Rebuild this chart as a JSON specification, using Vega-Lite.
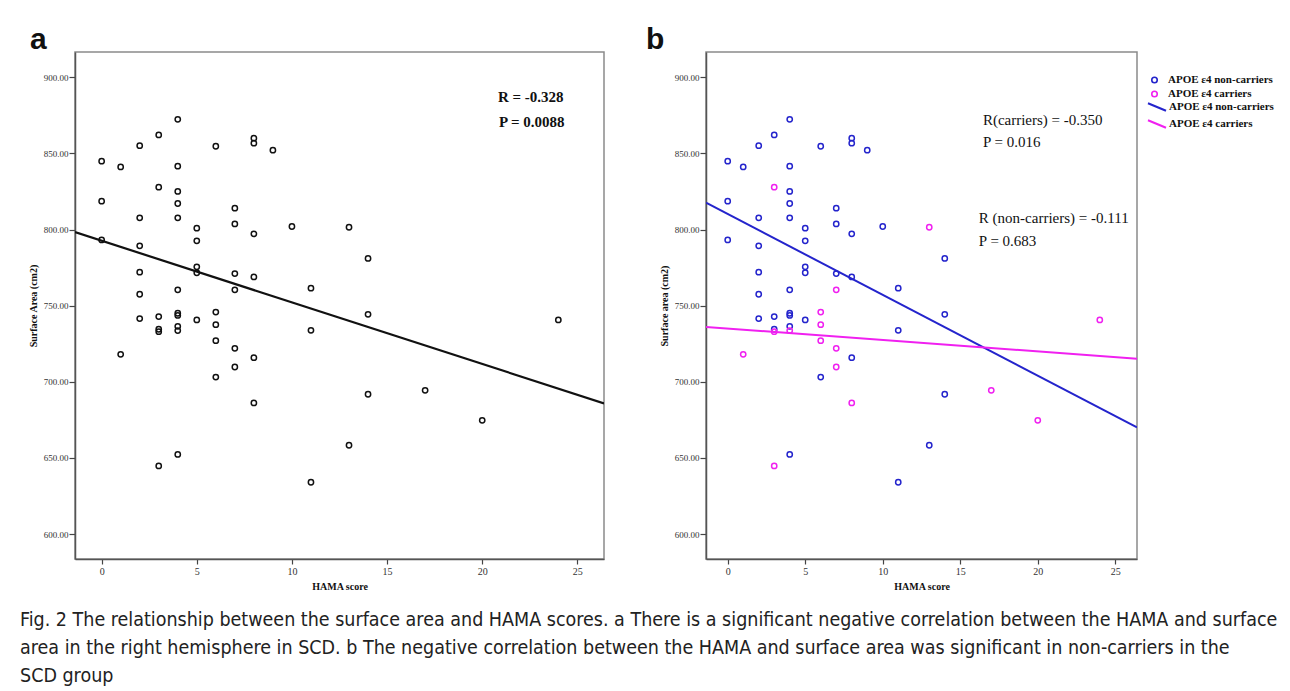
{
  "$schema": "https://vega.github.io/schema/vega-lite/v6.json",
  "background": "white",
  "padding": {"left": 20, "top": 24, "right": 4, "bottom": 4},
  "autosize": {"type": "pad"},
  "datasets": {
    "pts": [
      {"hama": 4, "area": 872.4, "series": "APOE ε4 non-carriers"},
      {"hama": 3, "area": 862.1, "series": "APOE ε4 non-carriers"},
      {"hama": 2, "area": 855.1, "series": "APOE ε4 non-carriers"},
      {"hama": 6, "area": 854.7, "series": "APOE ε4 non-carriers"},
      {"hama": 8, "area": 860.0, "series": "APOE ε4 non-carriers"},
      {"hama": 8, "area": 856.7, "series": "APOE ε4 non-carriers"},
      {"hama": 9, "area": 852.1, "series": "APOE ε4 non-carriers"},
      {"hama": 0, "area": 844.9, "series": "APOE ε4 non-carriers"},
      {"hama": 1, "area": 841.1, "series": "APOE ε4 non-carriers"},
      {"hama": 4, "area": 841.6, "series": "APOE ε4 non-carriers"},
      {"hama": 4, "area": 825.0, "series": "APOE ε4 non-carriers"},
      {"hama": 0, "area": 818.6, "series": "APOE ε4 non-carriers"},
      {"hama": 4, "area": 817.1, "series": "APOE ε4 non-carriers"},
      {"hama": 7, "area": 814.0, "series": "APOE ε4 non-carriers"},
      {"hama": 2, "area": 807.7, "series": "APOE ε4 non-carriers"},
      {"hama": 4, "area": 807.7, "series": "APOE ε4 non-carriers"},
      {"hama": 5, "area": 800.9, "series": "APOE ε4 non-carriers"},
      {"hama": 7, "area": 803.7, "series": "APOE ε4 non-carriers"},
      {"hama": 10, "area": 802.0, "series": "APOE ε4 non-carriers"},
      {"hama": 0, "area": 793.2, "series": "APOE ε4 non-carriers"},
      {"hama": 5, "area": 792.6, "series": "APOE ε4 non-carriers"},
      {"hama": 8, "area": 797.2, "series": "APOE ε4 non-carriers"},
      {"hama": 2, "area": 789.3, "series": "APOE ε4 non-carriers"},
      {"hama": 14, "area": 781.0, "series": "APOE ε4 non-carriers"},
      {"hama": 2, "area": 772.0, "series": "APOE ε4 non-carriers"},
      {"hama": 5, "area": 775.5, "series": "APOE ε4 non-carriers"},
      {"hama": 5, "area": 771.6, "series": "APOE ε4 non-carriers"},
      {"hama": 7, "area": 771.1, "series": "APOE ε4 non-carriers"},
      {"hama": 8, "area": 768.9, "series": "APOE ε4 non-carriers"},
      {"hama": 11, "area": 761.5, "series": "APOE ε4 non-carriers"},
      {"hama": 2, "area": 757.5, "series": "APOE ε4 non-carriers"},
      {"hama": 4, "area": 760.4, "series": "APOE ε4 non-carriers"},
      {"hama": 14, "area": 744.3, "series": "APOE ε4 non-carriers"},
      {"hama": 4, "area": 745.0, "series": "APOE ε4 non-carriers"},
      {"hama": 4, "area": 743.6, "series": "APOE ε4 non-carriers"},
      {"hama": 2, "area": 741.5, "series": "APOE ε4 non-carriers"},
      {"hama": 3, "area": 742.8, "series": "APOE ε4 non-carriers"},
      {"hama": 5, "area": 740.6, "series": "APOE ε4 non-carriers"},
      {"hama": 4, "area": 736.4, "series": "APOE ε4 non-carriers"},
      {"hama": 3, "area": 734.5, "series": "APOE ε4 non-carriers"},
      {"hama": 11, "area": 733.8, "series": "APOE ε4 non-carriers"},
      {"hama": 8, "area": 715.8, "series": "APOE ε4 non-carriers"},
      {"hama": 6, "area": 703.1, "series": "APOE ε4 non-carriers"},
      {"hama": 14, "area": 691.8, "series": "APOE ε4 non-carriers"},
      {"hama": 13, "area": 658.3, "series": "APOE ε4 non-carriers"},
      {"hama": 4, "area": 652.3, "series": "APOE ε4 non-carriers"},
      {"hama": 11, "area": 634.0, "series": "APOE ε4 non-carriers"},
      {"hama": 3, "area": 827.8, "series": "APOE ε4 carriers"},
      {"hama": 13, "area": 801.5, "series": "APOE ε4 carriers"},
      {"hama": 7, "area": 760.4, "series": "APOE ε4 carriers"},
      {"hama": 6, "area": 745.8, "series": "APOE ε4 carriers"},
      {"hama": 24, "area": 740.6, "series": "APOE ε4 carriers"},
      {"hama": 6, "area": 737.5, "series": "APOE ε4 carriers"},
      {"hama": 3, "area": 732.9, "series": "APOE ε4 carriers"},
      {"hama": 4, "area": 733.6, "series": "APOE ε4 carriers"},
      {"hama": 6, "area": 727.0, "series": "APOE ε4 carriers"},
      {"hama": 7, "area": 722.0, "series": "APOE ε4 carriers"},
      {"hama": 1, "area": 718.0, "series": "APOE ε4 carriers"},
      {"hama": 7, "area": 709.7, "series": "APOE ε4 carriers"},
      {"hama": 17, "area": 694.4, "series": "APOE ε4 carriers"},
      {"hama": 8, "area": 686.1, "series": "APOE ε4 carriers"},
      {"hama": 20, "area": 674.7, "series": "APOE ε4 carriers"},
      {"hama": 3, "area": 644.7, "series": "APOE ε4 carriers"}
    ],
    "fits": [
      {"panel": "a", "series": "all", "hama": -1.4, "area": 798.3},
      {"panel": "a", "series": "all", "hama": 26.4, "area": 685.8},
      {"panel": "b", "series": "APOE ε4 non-carriers (fit)", "hama": -1.4, "area": 817.6},
      {"panel": "b", "series": "APOE ε4 non-carriers (fit)", "hama": 26.4, "area": 670.1},
      {"panel": "b", "series": "APOE ε4 carriers (fit)", "hama": -1.4, "area": 736.0},
      {"panel": "b", "series": "APOE ε4 carriers (fit)", "hama": 26.4, "area": 715.2}
    ],
    "notes": [
      {"panel": "a", "hama": 22.55, "area": 887.3, "label": "R = -0.328"},
      {"panel": "a", "hama": 22.6, "area": 870.3, "label": "P = 0.0088"},
      {"panel": "b", "hama": 16.46, "area": 872.1, "label": "R(carriers) = -0.350"},
      {"panel": "b", "hama": 16.46, "area": 857.7, "label": "P = 0.016"},
      {"panel": "b", "hama": 16.2, "area": 807.8, "label": "R (non-carriers) = -0.111"},
      {"panel": "b", "hama": 16.2, "area": 792.7, "label": "P = 0.683"}
    ]
  },
  "title": {
    "text": [
      "Fig. 2 The relationship between the surface area and HAMA scores. a There is a significant negative correlation between the HAMA and surface",
      "area in the right hemisphere in SCD. b The negative correlation between the HAMA and surface area was significant in non-carriers in the",
      "SCD group"
    ],
    "orient": "bottom",
    "anchor": "start",
    "frame": "group",
    "dx": -55,
    "offset": 19,
    "baseline": "top",
    "font": "Liberation Sans Narrow, DejaVu Sans Condensed, Open Sans",
    "fontSize": 19.5,
    "fontWeight": "normal",
    "lineHeight": 28,
    "color": "#222222"
  },
  "bounds": "flush",
  "spacing": 102,
  "resolve": {
    "scale": {"color": "independent", "stroke": "independent"},
    "legend": {"color": "independent", "stroke": "independent"}
  },
  "hconcat": [
    {
      "width": 529,
      "height": 507,
      "title": {"text": "a", "anchor": "start", "frame": "group", "dx": -45, "offset": -27, "baseline": "alphabetic", "font": "Liberation Sans", "fontSize": 30, "fontWeight": "bold", "color": "#111111"},
      "layer": [
        {
          "data": {"name": "pts"},
          "mark": {"type": "point", "shape": "circle", "filled": false, "size": 28, "strokeWidth": 1.5, "color": "#111111", "opacity": 1},
          "encoding": {
            "x": {"field": "hama", "type": "quantitative", "scale": {"domain": [-1.4, 26.4], "nice": false, "zero": false}, "axis": {"values": [0, 5, 10, 15, 20, 25], "title": "HAMA score"}},
            "y": {"field": "area", "type": "quantitative", "scale": {"domain": [583.6, 916.6], "nice": false, "zero": false}, "axis": {"values": [600, 650, 700, 750, 800, 850, 900], "title": "Surface Area (cm2)"}}
          }
        },
        {
          "data": {"name": "fits"},
          "transform": [{"filter": "datum.panel == 'a'"}],
          "mark": {"type": "line", "color": "#111111", "strokeWidth": 2.2, "clip": true},
          "encoding": {
            "x": {"field": "hama", "type": "quantitative"},
            "y": {"field": "area", "type": "quantitative"}
          }
        },
        {
          "data": {"name": "notes"},
          "transform": [{"filter": "datum.panel == 'a'"}],
          "mark": {"type": "text", "font": "Liberation Serif", "fontWeight": "bold", "fontSize": 15, "align": "center", "baseline": "middle", "color": "#111111"},
          "encoding": {
            "x": {"field": "hama", "type": "quantitative"},
            "y": {"field": "area", "type": "quantitative"},
            "text": {"field": "label"}
          }
        }
      ]
    },
    {
      "width": 431,
      "height": 507,
      "title": {"text": "b", "anchor": "start", "frame": "group", "dx": -60, "offset": -27, "baseline": "alphabetic", "font": "Liberation Sans", "fontSize": 30, "fontWeight": "bold", "color": "#111111"},
      "layer": [
        {
          "data": {"name": "pts"},
          "mark": {"type": "point", "shape": "circle", "filled": false, "size": 28, "strokeWidth": 1.5, "opacity": 1},
          "encoding": {
            "x": {"field": "hama", "type": "quantitative", "scale": {"domain": [-1.4, 26.4], "nice": false, "zero": false}, "axis": {"values": [0, 5, 10, 15, 20, 25], "title": "HAMA score"}},
            "y": {"field": "area", "type": "quantitative", "scale": {"domain": [583.6, 916.6], "nice": false, "zero": false}, "axis": {"values": [600, 650, 700, 750, 800, 850, 900], "title": "Surface area (cm2)"}},
            "color": {
              "field": "series", "type": "nominal",
              "scale": {"domain": ["APOE ε4 non-carriers", "APOE ε4 carriers"], "range": ["#2424cc", "#f020f0"]},
              "legend": {
                "orient": "none", "legendX": 443, "legendY": 22.5, "title": null, "padding": 0,
                "labelFont": "Liberation Serif", "labelFontWeight": "bold", "labelFontSize": 11, "labelColor": "#111111", "labelLimit": 300,
                "symbolType": "circle", "symbolSize": 30, "symbolStrokeWidth": 1.6, "symbolFillColor": "transparent",
                "rowPadding": 1, "labelOffset": 8
              }
            }
          }
        },
        {
          "data": {"name": "fits"},
          "transform": [{"filter": "datum.panel == 'b'"}],
          "mark": {"type": "line", "strokeWidth": 2, "clip": true},
          "encoding": {
            "x": {"field": "hama", "type": "quantitative"},
            "y": {"field": "area", "type": "quantitative"},
            "stroke": {
              "field": "series", "type": "nominal",
              "scale": {"domain": ["APOE ε4 non-carriers (fit)", "APOE ε4 carriers (fit)"], "range": ["#2424cc", "#f020f0"]},
              "legend": {
                "orient": "none", "legendX": 445, "legendY": 49, "title": null, "padding": 0,
                "labelExpr": "replace(datum.label, ' (fit)', '')",
                "labelFont": "Liberation Serif", "labelFontWeight": "bold", "labelFontSize": 11, "labelColor": "#111111", "labelLimit": 300,
                "symbolType": "M-1.8,-0.75L1.8,0.75", "symbolSize": 100, "symbolStrokeWidth": 2,
                "rowPadding": 1, "labelOffset": 6
              }
            }
          }
        },
        {
          "data": {"name": "notes"},
          "transform": [{"filter": "datum.panel == 'b'"}],
          "mark": {"type": "text", "font": "Liberation Serif", "fontWeight": "normal", "fontSize": 15, "align": "left", "baseline": "middle", "color": "#111111"},
          "encoding": {
            "x": {"field": "hama", "type": "quantitative"},
            "y": {"field": "area", "type": "quantitative"},
            "text": {"field": "label"}
          }
        }
      ]
    }
  ],
  "config": {
    "view": {"stroke": "#8a8a8a", "strokeWidth": 1.5},
    "axis": {
      "grid": false,
      "labelFont": "Liberation Serif",
      "titleFont": "Liberation Serif",
      "titleFontWeight": "bold",
      "titleFontSize": 10,
      "domainColor": "#555555",
      "domainWidth": 1.5,
      "tickColor": "#444444",
      "tickWidth": 1.2,
      "labelColor": "#333333",
      "titleColor": "#111111"
    },
    "axisX": {"labelFontSize": 10, "tickSize": 5, "labelPadding": 2, "titlePadding": 5},
    "axisY": {"labelFontSize": 9, "tickSize": 6, "labelPadding": 1, "titlePadding": 5, "format": ".2f"}
  }
}
